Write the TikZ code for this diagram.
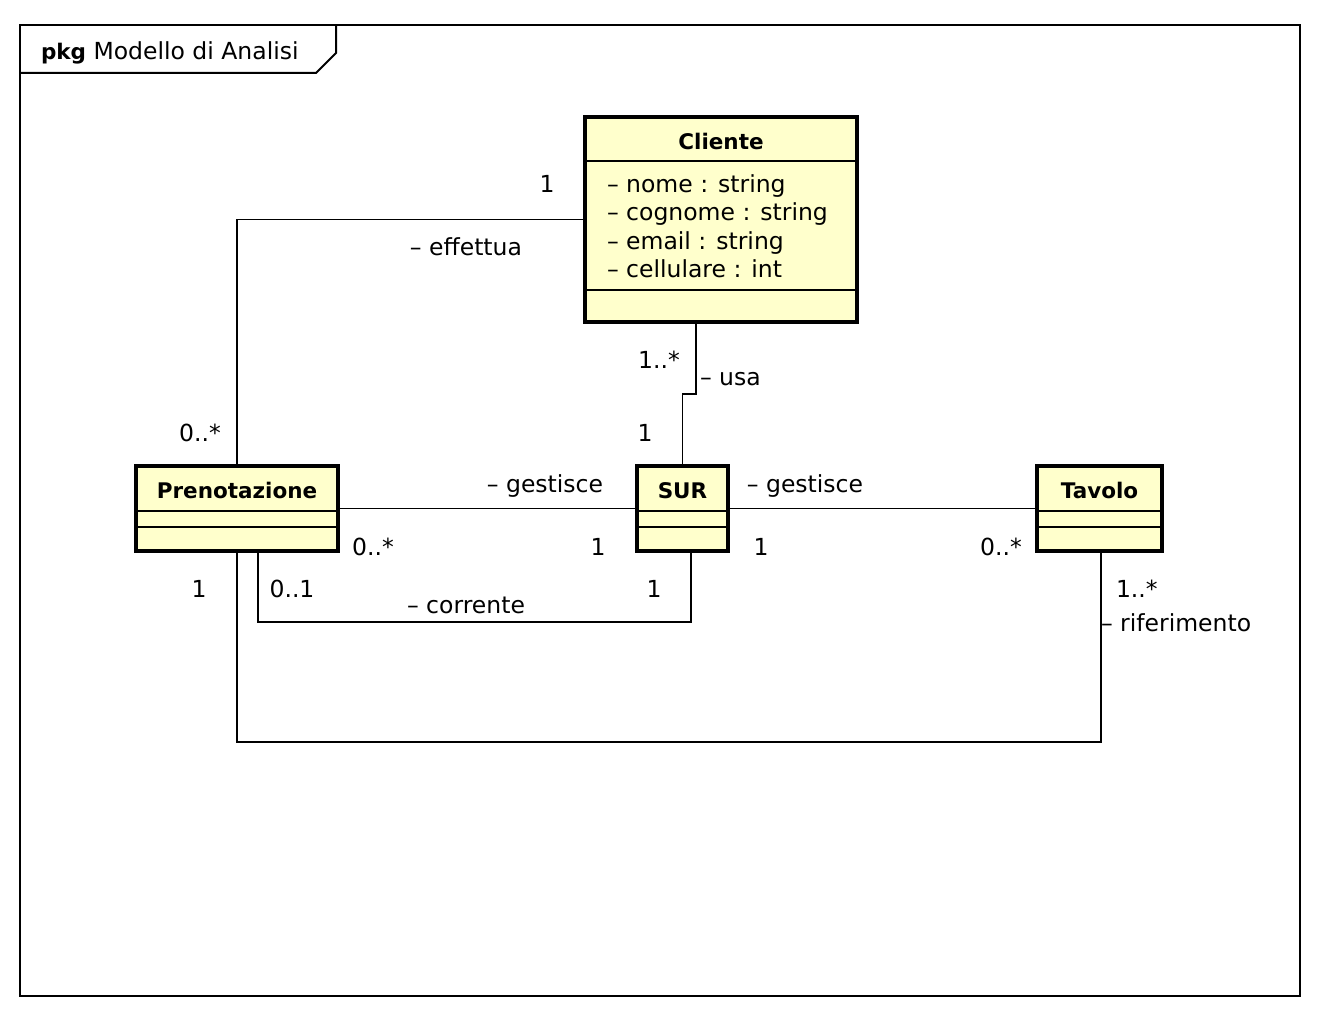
\documentclass[tikz,border=0pt]{standalone}
\usepackage{fontspec}
\setmainfont{DejaVu Sans}
\definecolor{clsfill}{RGB}{255,255,204}
\begin{document}
\begin{tikzpicture}[x=1pt,y=-1pt,
  every node/.style={font=\fontsize{23.5}{28}\selectfont, inner sep=0pt, outer sep=0pt},
  cls/.style={draw=black, line width=3.5pt, fill=clsfill, rectangle},
  sep/.style={line width=1.5pt},
  conn/.style={line width=1.8pt},
  lbl/.style={anchor=base},
  lblw/.style={anchor=base west},
  ttl/.style={anchor=base, font=\fontsize{21.5}{26}\selectfont\bfseries}]
\useasboundingbox (0,0) rectangle (1318,1014);
% frame
\node[draw=black, line width=2pt, minimum width=1280pt, minimum height=971pt] (frame) at (660,510.5) {};
\draw[line width=2pt] (20,73) -- (316,73) -- (336,53) -- (336,25);
\node[anchor=base west] (pkg) at (41,60) {{\fontsize{21.5}{26}\selectfont\bfseries pkg} Modello di Analisi};
% classes
\node[cls, minimum width=272pt, minimum height=205pt] (cli) at (721,219.5) {};
\node[cls, minimum width=202pt, minimum height=85pt] (pre) at (237,508.5) {};
\node[cls, minimum width=91pt, minimum height=85pt] (sur) at (682.5,508.5) {};
\node[cls, minimum width=125pt, minimum height=85pt] (tav) at (1099.5,508.5) {};
% separators
\draw[sep] (cli.west |- 0,161) -- (cli.east |- 0,161);
\draw[sep] (cli.west |- 0,290) -- (cli.east |- 0,290);
\foreach \n in {pre,sur,tav}{
  \draw[sep] (\n.west |- 0,511) -- (\n.east |- 0,511);
  \draw[sep] (\n.west |- 0,527) -- (\n.east |- 0,527);
}
% titles
\node[ttl] (tcli) at (721,150) {Cliente};
\node[ttl] (tpre) at (237,498) {Prenotazione};
\node[ttl] (tsur) at (682.5,498) {SUR};
\node[ttl] (ttav) at (1099.5,498) {Tavolo};
% attributes
\node[lblw] (a1) at (607,193) {– nome : string};
\node[lblw] (a2) at (607,221) {– cognome : string};
\node[lblw] (a3) at (607,249) {– email : string};
\node[lblw] (a4) at (607,277) {– cellulare : int};
% connectors
\draw[conn] (cli.west) -| (pre.north);
\draw[conn] ([xshift=-25pt]cli.south) -- ++(0,72) -| (sur.north);
\draw[conn] (pre.east) -- (sur.west);
\draw[conn] (sur.east) -- (tav.west);
\draw[conn] ([xshift=21pt]pre.south) -- ++(0,71) -| ([xshift=8.5pt]sur.south);
\draw[conn] (pre.south) -- ++(0,191) -| ([xshift=1.5pt]tav.south);
% labels
\node[lbl] (m1) at (547,193) {1};
\node[lbl] (r1) at (466,255) {– effettua};
\node[lbl] (m2) at (200,441) {0..*};
\node[lbl] (m3) at (659,368) {1..*};
\node[lblw] (r2) at (700,385) {– usa};
\node[lbl] (m4) at (645,441) {1};
\node[lbl] (r3) at (545,492) {– gestisce};
\node[lbl] (m5) at (373,555) {0..*};
\node[lbl] (m6) at (598,555) {1};
\node[lbl] (r4) at (805,492) {– gestisce};
\node[lbl] (m7) at (761,555) {1};
\node[lbl] (m8) at (1001,555) {0..*};
\node[lbl] (m9) at (199,597) {1};
\node[lbl] (m10) at (292,597) {0..1};
\node[lbl] (r5) at (466,613) {– corrente};
\node[lbl] (m11) at (654,597) {1};
\node[lblw] (m12) at (1116,597) {1..*};
\node[lblw] (r6) at (1101,631) {– riferimento};
\end{tikzpicture}
\end{document}
